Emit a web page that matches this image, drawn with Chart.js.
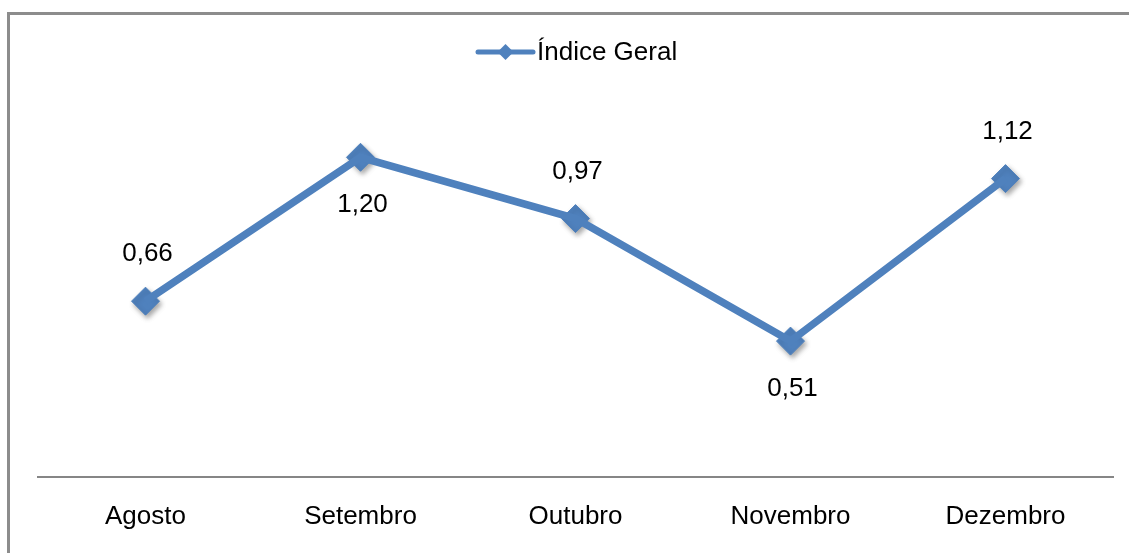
<!DOCTYPE html>
<html>
<head>
<meta charset="utf-8">
<script src="https://cdn.jsdelivr.net/npm/chart.js@4/dist/chart.umd.min.js"></script>
<style>
html,body{margin:0;padding:0;background:#fff;}
#wrap{width:1129px;height:553px;position:relative;}
</style>
</head>
<body>
<div id="wrap"><canvas id="c" width="1129" height="553"></canvas></div>
<script>
const categories = ['Agosto', 'Setembro', 'Outubro', 'Novembro', 'Dezembro'];
const seriesName = 'Índice Geral';
const indiceGeral = [0.66, 1.20, 0.97, 0.51, 1.12];
const labelPositions = ['above', 'below', 'above', 'below', 'above'];

const BLUE = '#4F81BD';
const FONT = 'Liberation Sans, Arial, sans-serif';

const framePlugin = {
  id: 'frame',
  beforeDraw(chart) {
    const ctx = chart.ctx;
    ctx.save();
    ctx.fillStyle = '#ffffff';
    ctx.fillRect(0, 0, chart.width, chart.height);
    ctx.strokeStyle = '#8c8c8c';
    ctx.lineWidth = 3;
    ctx.strokeRect(8.5, 13.5, chart.width + 20, chart.height + 20);
    ctx.restore();
  }
};

const shadowPlugin = {
  id: 'markerShadow',
  beforeDatasetDraw(chart, args) {
    if (args.index === 1) {
      const ctx = chart.ctx;
      ctx.save();
      ctx.shadowColor = 'rgba(0,0,0,0.35)';
      ctx.shadowBlur = 5;
      ctx.shadowOffsetX = 2;
      ctx.shadowOffsetY = 3;
    }
  },
  afterDatasetDraw(chart, args) {
    if (args.index === 1) chart.ctx.restore();
  }
};

const labelPlugin = {
  id: 'valueLabels',
  afterDatasetsDraw(chart) {
    const ctx = chart.ctx;
    const meta = chart.getDatasetMeta(1);
    ctx.save();
    ctx.font = '26px ' + FONT;
    ctx.fillStyle = '#000';
    ctx.textAlign = 'center';
    ctx.textBaseline = 'middle';
    meta.data.forEach((pt, i) => {
      const v = indiceGeral[i].toFixed(2).replace('.', ',');
      const dy = labelPositions[i] === 'above' ? -47 : 48;
      ctx.fillText(v, pt.x + 2, pt.y + dy);
    });
    ctx.restore();
  }
};

const legendPlugin = {
  id: 'customLegend',
  afterDraw(chart) {
    const ctx = chart.ctx;
    const y = 52;
    const x0 = 478, x1 = 533;
    ctx.save();
    ctx.strokeStyle = BLUE;
    ctx.lineWidth = 5;
    ctx.lineCap = 'round';
    ctx.beginPath();
    ctx.moveTo(x0, y);
    ctx.lineTo(x1, y);
    ctx.stroke();
    const cx = (x0 + x1) / 2, r = 8;
    ctx.fillStyle = BLUE;
    ctx.beginPath();
    ctx.moveTo(cx, y - r);
    ctx.lineTo(cx + r, y);
    ctx.lineTo(cx, y + r);
    ctx.lineTo(cx - r, y);
    ctx.closePath();
    ctx.fill();
    ctx.font = '26px ' + FONT;
    ctx.fillStyle = '#000';
    ctx.textAlign = 'left';
    ctx.textBaseline = 'middle';
    ctx.fillText(seriesName, 537, y + 1);
    ctx.restore();
  }
};

new Chart(document.getElementById('c'), {
  type: 'line',
  data: {
    labels: categories,
    datasets: [
      {
        label: seriesName,
        data: indiceGeral,
        borderColor: BLUE,
        borderWidth: 7.5,
        pointRadius: 0,
        tension: 0,
        fill: false
      },
      {
        label: seriesName + ' markers',
        data: indiceGeral,
        showLine: false,
        pointStyle: 'rectRot',
        pointRadius: 14,
        pointBackgroundColor: BLUE,
        pointBorderColor: BLUE,
        pointBorderWidth: 1
      }
    ]
  },
  options: {
    responsive: false,
    animation: false,
    events: [],
    layout: {
      autoPadding: false,
      padding: { left: 38, right: 16, top: 104, bottom: 0 }
    },
    plugins: {
      legend: { display: false },
      tooltip: { enabled: false },
      title: { display: false }
    },
    scales: {
      x: {
        type: 'category',
        offset: true,
        grid: { display: false, drawTicks: false },
        border: { display: true, color: '#868686', width: 2 },
        ticks: {
          color: '#000',
          font: { family: FONT, size: 26 },
          padding: 24,
          maxRotation: 0
        },
        afterFit(scale) { scale.height = 76; }
      },
      y: {
        display: false,
        min: 0,
        max: 1.4
      }
    }
  },
  plugins: [framePlugin, shadowPlugin, labelPlugin, legendPlugin]
});
</script>
</body>
</html>
